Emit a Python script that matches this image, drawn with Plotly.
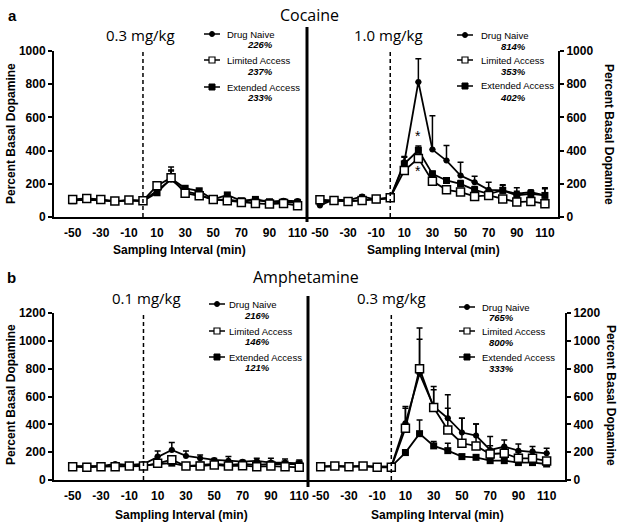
import plotly.graph_objects as go

W, H = 624, 528

# ---------------- data ----------------
time_min = [-50, -40, -30, -20, -10, 0, 10, 20, 30, 40, 50, 60, 70, 80, 90, 100, 110]
x_tick_vals = [-50, -30, -10, 10, 30, 50, 70, 90, 110]
x_tick_text = ["-50", "-30", "-10", "10", "30", "50", "70", "90", "110"]
series_names = ["Drug Naive", "Limited Access", "Extended Access"]

# Cocaine 0.3 mg/kg
coc03_naive = [100, 104, 100, 96, 100, 98, 158, 226, 155, 137, 102, 106, 92, 102, 92, 98, 96]
coc03_naive_err = [8, 8, 8, 8, 8, 8, 15, 75, 15, 15, 10, 10, 10, 10, 10, 10, 10]
coc03_limited = [106, 112, 106, 96, 102, 98, 189, 237, 143, 128, 106, 98, 88, 82, 78, 82, 68]
coc03_limited_err = [6, 6, 6, 6, 6, 6, 15, 40, 10, 10, 8, 8, 8, 8, 8, 8, 8]
coc03_extended = [98, 108, 100, 94, 100, 96, 146, 233, 173, 158, 106, 133, 98, 106, 92, 88, 86]
coc03_extended_err = [6, 6, 6, 6, 6, 6, 10, 50, 10, 10, 8, 10, 8, 8, 8, 8, 8]
coc03_peaks = ["226%", "237%", "233%"]

# Cocaine 1.0 mg/kg
coc10_naive = [70, 106, 100, 124, 104, 116, 330, 814, 406, 340, 250, 210, 164, 160, 140, 150, 130]
coc10_naive_err = [8, 8, 8, 8, 8, 8, 35, 140, 204, 90, 80, 36, 46, 34, 36, 12, 46]
coc10_limited = [104, 100, 94, 100, 108, 116, 280, 353, 216, 164, 150, 124, 130, 108, 90, 94, 80]
coc10_limited_err = [5, 5, 5, 5, 5, 5, 20, 25, 15, 12, 12, 12, 12, 12, 12, 12, 12]
coc10_extended = [90, 100, 96, 100, 104, 112, 320, 402, 260, 220, 200, 164, 140, 160, 130, 140, 130]
coc10_extended_err = [5, 5, 5, 5, 5, 5, 40, 25, 15, 15, 20, 20, 20, 30, 25, 20, 40]
coc10_peaks = ["814%", "353%", "402%"]

# Amphetamine 0.1 mg/kg
amp01_naive = [96, 96, 100, 115, 108, 115, 168, 216, 173, 156, 144, 139, 132, 137, 125, 125, 120]
amp01_naive_err = [5, 5, 5, 5, 5, 5, 41, 53, 36, 24, 10, 29, 10, 19, 31, 26, 24]
amp01_limited = [96, 91, 96, 96, 100, 100, 120, 146, 100, 100, 108, 100, 103, 96, 100, 96, 91]
amp01_limited_err = [5, 5, 5, 5, 5, 5, 10, 12, 8, 8, 8, 8, 8, 8, 8, 8, 8]
amp01_extended = [100, 98, 100, 100, 104, 104, 115, 121, 100, 108, 115, 108, 115, 108, 115, 115, 115]
amp01_extended_err = [5, 5, 5, 5, 5, 5, 8, 10, 8, 8, 8, 8, 8, 8, 8, 8, 8]
amp01_peaks = ["216%", "146%", "121%"]

# Amphetamine 0.3 mg/kg
amp03_naive = [96, 100, 96, 100, 96, 96, 408, 765, 528, 444, 341, 319, 216, 240, 211, 204, 192]
amp03_naive_err = [5, 5, 5, 5, 5, 5, 120, 327, 120, 168, 103, 84, 96, 48, 48, 36, 36]
amp03_limited = [96, 100, 96, 100, 91, 91, 372, 800, 521, 360, 264, 245, 187, 192, 156, 156, 137]
amp03_limited_err = [5, 5, 5, 5, 5, 5, 144, 211, 151, 156, 180, 158, 60, 36, 41, 24, 19]
amp03_extended = [96, 100, 96, 100, 96, 96, 197, 333, 245, 211, 168, 163, 139, 139, 125, 125, 115]
amp03_extended_err = [5, 5, 5, 5, 5, 5, 20, 99, 31, 53, 15, 15, 15, 15, 15, 15, 15]
amp03_peaks = ["765%", "800%", "333%"]

# ---------------- helpers ----------------
def px(x):
    return x / W

def py(y):
    return 1 - y / H

FONT = "Liberation Sans, Arial, sans-serif"
SERIF_T = "Open Sans, sans-serif"

fig = go.Figure()

def add_panel(xa, ya, naive, naive_e, lim, lim_e, ext, ext_e):
    def err(e):
        return dict(type="data", symmetric=False, array=e, arrayminus=[0] * len(e),
                    color="black", thickness=1.5, width=3)
    fig.add_trace(go.Scatter(x=time_min, y=naive, xaxis=xa, yaxis=ya, mode="lines+markers",
                             line=dict(color="black", width=1.8),
                             marker=dict(symbol="circle", size=6, color="black"),
                             error_y=err(naive_e), showlegend=False, name=series_names[0]))
    fig.add_trace(go.Scatter(x=time_min, y=ext, xaxis=xa, yaxis=ya, mode="lines+markers",
                             line=dict(color="black", width=1.8),
                             marker=dict(symbol="square", size=7, color="black"),
                             error_y=err(ext_e), showlegend=False, name=series_names[2]))
    fig.add_trace(go.Scatter(x=time_min, y=lim, xaxis=xa, yaxis=ya, mode="lines+markers",
                             line=dict(color="black", width=1.8),
                             marker=dict(symbol="square", size=8, color="white",
                                         line=dict(color="black", width=1.5)),
                             error_y=err(lim_e), showlegend=False, name=series_names[1]))

add_panel("x", "y", coc03_naive, coc03_naive_err, coc03_limited, coc03_limited_err,
          coc03_extended, coc03_extended_err)
add_panel("x2", "y2", coc10_naive, coc10_naive_err, coc10_limited, coc10_limited_err,
          coc10_extended, coc10_extended_err)
add_panel("x3", "y3", amp01_naive, amp01_naive_err, amp01_limited, amp01_limited_err,
          amp01_extended, amp01_extended_err)
add_panel("x4", "y4", amp03_naive, amp03_naive_err, amp03_limited, amp03_limited_err,
          amp03_extended, amp03_extended_err)

tickfont = dict(family=FONT, size=12, color="black", weight="bold")

def xaxis_cfg(dom, rng, anchor):
    return dict(domain=dom, range=rng, anchor=anchor, tickvals=x_tick_vals, ticktext=x_tick_text,
                showline=True, linewidth=2, linecolor="black", ticks="outside", ticklen=4,
                tickwidth=1.5, tickcolor="rgba(0,0,0,0)", showgrid=False, zeroline=False,
                tickfont=tickfont, fixedrange=True, automargin=False)

def yaxis_cfg(dom, rng, anchor, side, dtick):
    return dict(domain=dom, range=rng, anchor=anchor, side=side, dtick=dtick, tick0=0,
                showline=True, linewidth=2, linecolor="black", ticks="outside", ticklen=4,
                tickwidth=1.5, tickcolor="black", showgrid=False, zeroline=False,
                tickfont=tickfont, fixedrange=True, automargin=False)

top_dom = [py(217), py(51)]
bot_dom = [py(480), py(313)]

layout = dict(
    width=W, height=H, margin=dict(l=0, r=0, t=0, b=0, pad=0, autoexpand=False),
    paper_bgcolor="white", plot_bgcolor="white", showlegend=False,
    xaxis=xaxis_cfg([px(54), px(307)], [-63.3, 116.7], "y"),
    yaxis=yaxis_cfg(top_dom, [0, 1000], "x", "left", 200),
    xaxis2=xaxis_cfg([px(307), px(558)], [-59.2, 119.3], "y2"),
    yaxis2=yaxis_cfg(top_dom, [0, 1000], "x2", "right", 200),
    xaxis3=xaxis_cfg([px(54), px(308)], [-63.2, 116.2], "y3"),
    yaxis3=yaxis_cfg(bot_dom, [0, 1200], "x3", "left", 200),
    xaxis4=xaxis_cfg([px(308), px(565)], [-59.0, 123.0], "y4"),
    yaxis4=yaxis_cfg(bot_dom, [0, 1200], "x4", "right", 200),
)
fig.update_layout(**layout)

shapes = []
annotations = []

# dashed injection lines
for xa, ya, top in [("x", "y", 1000), ("x2", "y2", 1000), ("x3", "y3", 1200), ("x4", "y4", 1200)]:
    shapes.append(dict(type="line", xref=xa, yref=ya, x0=0, x1=0, y0=0, y1=top,
                       line=dict(color="black", width=1.5, dash="4px,3px")))

# thick dividers
shapes.append(dict(type="line", xref="paper", yref="paper", x0=px(307), x1=px(307),
                   y0=py(222), y1=py(27), line=dict(color="black", width=3)))
shapes.append(dict(type="line", xref="paper", yref="paper", x0=px(308), x1=px(308),
                   y0=py(487), y1=py(296), line=dict(color="black", width=3)))

def ann(x, y, text, size, xanchor="center", weight="normal", style="normal",
        family=FONT, angle=0):
    annotations.append(dict(x=px(x), y=py(y), xref="paper", yref="paper", text=text,
                            showarrow=False, xanchor=xanchor, yanchor="middle",
                            textangle=angle,
                            font=dict(family=family, size=size, color="black",
                                      weight=weight, style=style)))

# panel letters and titles
ann(12, 15, "a", 15, weight="bold")
ann(11, 277, "b", 15, weight="bold")
ann(309, 15, "Cocaine", 16, family=SERIF_T)
ann(306, 277, "Amphetamine", 16, family=SERIF_T)

# dose labels
ann(140, 35, "0.3 mg/kg", 15, family=SERIF_T)
ann(388, 35, "1.0 mg/kg", 15, family=SERIF_T)
ann(146, 298, "0.1 mg/kg", 15, family=SERIF_T)
ann(391, 298, "0.3 mg/kg", 15, family=SERIF_T)

# axis titles
for cx, cy in [(180, 250), (433, 250), (181, 515), (437, 515)]:
    ann(cx, cy, "Sampling Interval (min)", 12, weight="bold")
ann(11, 134, "Percent Basal Dopamine", 12, weight="bold", angle=-90)
ann(609, 134, "Percent Basal Dopamine", 12, weight="bold", angle=90)
ann(11, 395, "Percent Basal Dopamine", 12, weight="bold", angle=-90)
ann(611, 395, "Percent Basal Dopamine", 12, weight="bold", angle=90)

# asterisks (cocaine 1.0, 20 min)
annotations.append(dict(x=20, y=488, xref="x2", yref="y2", text="*", showarrow=False,
                        font=dict(family=FONT, size=14, color="black"), yanchor="middle"))
annotations.append(dict(x=20, y=278, xref="x2", yref="y2", text="*", showarrow=False,
                        font=dict(family=FONT, size=14, color="black"), yanchor="middle"))

# custom legends
def legend(gx, text_x, pct_x, rows, pct_rows, pcts):
    kinds = ["circle", "open", "filled"]
    for kind, ry, name, pry, pct in zip(kinds, rows, series_names, pct_rows, pcts):
        shapes.append(dict(type="line", xref="paper", yref="paper", x0=px(gx - 8), x1=px(gx + 8),
                           y0=py(ry), y1=py(ry), line=dict(color="black", width=1.5)))
        if kind == "circle":
            shapes.append(dict(type="circle", xref="paper", yref="paper",
                               x0=px(gx - 2.5), x1=px(gx + 2.5), y0=py(ry + 2.5), y1=py(ry - 2.5),
                               fillcolor="black", line=dict(color="black", width=1)))
        elif kind == "open":
            shapes.append(dict(type="rect", xref="paper", yref="paper",
                               x0=px(gx - 3), x1=px(gx + 3), y0=py(ry + 3), y1=py(ry - 3),
                               fillcolor="white", line=dict(color="black", width=1.2)))
        else:
            shapes.append(dict(type="rect", xref="paper", yref="paper",
                               x0=px(gx - 3), x1=px(gx + 3), y0=py(ry + 3), y1=py(ry - 3),
                               fillcolor="black", line=dict(color="black", width=1)))
        ann(text_x, ry, name, 9.5, xanchor="left")
        ann(pct_x, pry, pct, 9.5, weight="bold", style="italic")

legend(212, 225, 260, [34, 60, 87], [45, 71, 97], coc03_peaks)
legend(465, 479, 513, [35, 60, 86], [47, 71, 97], coc10_peaks)
legend(217, 227, 257, [304, 331, 357], [315, 341, 367], amp01_peaks)
legend(467, 480, 501, [307, 331, 357], [317, 342, 368], amp03_peaks)

fig.update_layout(shapes=shapes, annotations=annotations)

# remove the browser's default 8px body margin so the figure fills the window exactly
fig.write_html("out.html", config={"displayModeBar": False},
               post_script="document.body.style.margin='0px';document.body.style.overflow='hidden';")
